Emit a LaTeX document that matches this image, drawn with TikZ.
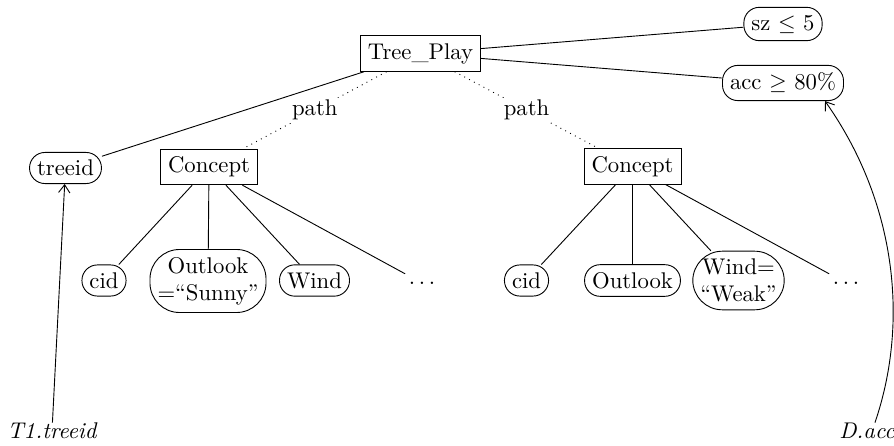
\documentclass[tikz,border=0pt]{standalone}
\usetikzlibrary{arrows.meta}
\begin{document}
\begin{tikzpicture}[x=0.4405pt,y=-0.4405pt,
  box/.style={draw, inner sep=3.33pt},
  rbox/.style={draw, rounded corners=6.8pt, inner sep=3.33pt, align=center},
  tallbox/.style={rbox, rounded corners=13pt},
  lbl/.style={inner sep=0pt, font=\itshape},
  plain/.style={inner sep=3.33pt},
  pathlbl/.style={fill=white, inner sep=1pt},
  arr/.style={-{Straight Barb[length=3.5pt,width=5pt]}}]
\useasboundingbox (0,0) rectangle (894,446);
% top
\node[box] (tp) at (420.5,53.5) {Tree\_Play};
\node[rbox] (sz) at (783,24) {sz $\leq$ 5};
\node[rbox] (acc) at (783,83) {acc $\geq$ 80\%};
\node[rbox] (treeid) at (65.5,168) {treeid};
\node[box] (cl) at (209,167) {Concept};
\node[box] (cr) at (632.5,166.5) {Concept};
% left children
\node[rbox] (lcid) at (104,280.5) {cid};
\node[tallbox] (lout) at (208,281) {Outlook\\=“Sunny”};
\node[rbox] (lwind) at (314.5,280.5) {Wind};
\node[plain] (ldots) at (422,283) {$\ldots$};
% right children
\node[rbox] (rcid) at (526.5,280.5) {cid};
\node[rbox] (rout) at (632.5,280.5) {Outlook};
\node[tallbox] (rwind) at (738.5,280.5) {Wind=\\“Weak”};
\node[plain] (rdots) at (846,283) {$\ldots$};
% bottom labels
\node[lbl] (t1) at (52,431) {T1.treeid};
\node[lbl] (dacc) at (867,431) {D.acc};
% connectors
\draw (tp) -- (sz);
\draw (tp) -- (acc);
\draw (tp) -- (treeid);
\draw[dotted] (tp) -- node[pathlbl] (p1) {path} (cl);
\draw[dotted] (tp) -- node[pathlbl] (p2) {path} (cr);
\draw (cl) -- (lcid);
\draw (cl) -- (lout);
\draw (cl) -- (lwind);
\draw (cl) -- (ldots);
\draw (cr) -- (rcid);
\draw (cr) -- (rout);
\draw (cr) -- (rwind);
\draw (cr) -- (rdots);
\draw[arr] (t1) -- (treeid);
\draw[arr] ([xshift=3.5pt]dacc.north) .. controls (910,320) and (895,200) .. ([xshift=18.5pt]acc.south);
\end{tikzpicture}
\end{document}
